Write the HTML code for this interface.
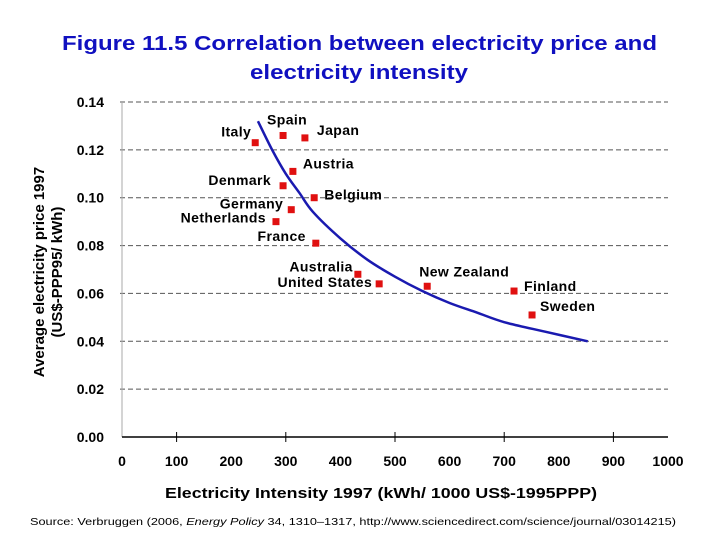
<!DOCTYPE html>
<html><head><meta charset="utf-8"><style>
body{margin:0;background:#fff;width:720px;height:540px;overflow:hidden;font-family:"Liberation Sans",Arial,sans-serif}
svg text{font-family:"Liberation Sans",Arial,sans-serif;font-weight:bold}
</style></head><body>
<svg id="chart" width="720" height="540" xmlns="http://www.w3.org/2000/svg">
<text x="62" y="50" font-size="20" fill="#1010c0" textLength="595" lengthAdjust="spacingAndGlyphs">Figure 11.5 Correlation between electricity price and</text>
<text x="250" y="79" font-size="20" fill="#1010c0" textLength="218" lengthAdjust="spacingAndGlyphs">electricity intensity</text>
<g id="grid"></g><g id="axes"></g><g id="marks"></g>
<text x="165" y="498" font-size="15" textLength="432" lengthAdjust="spacingAndGlyphs">Electricity Intensity 1997 (kWh/ 1000 US$-1995PPP)</text>
<text transform="translate(44,272) rotate(-90)" text-anchor="middle" font-size="15">Average electricity price 1997</text>
<text transform="translate(62,272) rotate(-90)" text-anchor="middle" font-size="15">(US$-PPP95/ kWh)</text>
<text x="30" y="525" font-size="10.5" style="font-weight:normal" textLength="646" lengthAdjust="spacingAndGlyphs">Source: Verbruggen (2006, <tspan font-style="italic">Energy Policy</tspan> 34, 1310–1317, http://www.sciencedirect.com/science/journal/03014215)</text>
</svg>
<script>
const countries=["Italy","Spain","Japan","Austria","Denmark","Belgium","Germany","Netherlands","France","Australia","United States","New Zealand","Finland","Sweden"];
const intensity=[244,295,335,313,295,352,310,282,355,432,471,559,718,751];
const price=[0.123,0.126,0.125,0.111,0.105,0.100,0.095,0.090,0.081,0.068,0.064,0.063,0.061,0.051];
const fitX=[249,275,300,325,350,400,450,500,550,600,650,700,775,853];
const fitY=[0.132,0.120,0.110,0.102,0.094,0.083,0.074,0.067,0.061,0.056,0.052,0.048,0.044,0.040];
const xTicks=[0,100,200,300,400,500,600,700,800,900,1000];
const yTicks=[0,0.02,0.04,0.06,0.08,0.10,0.12,0.14];
const labelOff=[[-4,-6,"end"],[4,-11,"middle"],[12,-3,"start"],[10,-3,"start"],[-12,-1,"end"],[10,2,"start"],[-8,-1,"end"],[-10,1,"end"],[-10,-2,"end"],[-5,-3,"end"],[-7,3,"end"],[-8,-10,"start"],[10,0,"start"],[8,-4,"start"]];
const X=v=>122+v*0.546, Y=v=>437-v*(335/0.14);
const NS="http://www.w3.org/2000/svg";
function mk(t,a,p){const e=document.createElementNS(NS,t);for(const k in a)e.setAttribute(k,a[k]);p.appendChild(e);return e;}
const grid=document.getElementById('grid'),axes=document.getElementById('axes'),marks=document.getElementById('marks');
yTicks.forEach(v=>{
 if(v>0){const l=mk('line',{x1:120,x2:668,y1:Y(v),y2:Y(v),stroke:'#555','stroke-dasharray':'5,3','stroke-width':1},grid);
 
 }
 const t=mk('text',{x:104,y:Y(v)+5,'text-anchor':'end','font-size':14},axes);t.textContent=v.toFixed(2);
 
 
});
const ya=mk('line',{x1:122,x2:122,y1:Y(0.14),y2:437,stroke:'#aaa'},axes);


const xa=mk('line',{x1:122,x2:668,y1:437,y2:437,stroke:'#000','stroke-width':1.5},axes);


xTicks.forEach((v,i)=>{
 if(i%2==1){const tk=mk('line',{x1:X(v),x2:X(v),y1:432,y2:442,stroke:'#000'},axes);
 
 }
 const t=mk('text',{x:X(v),y:466,'text-anchor':'middle','font-size':14},axes);t.textContent=v;
 
 
});
const P=fitX.map((x,i)=>[X(x),Y(fitY[i])]);
let d='M'+P[0][0]+','+P[0][1];
for(let i=0;i<P.length-1;i++){const p0=P[i-1]||P[i],p1=P[i],p2=P[i+1],p3=P[i+2]||p2;
 d+=' C'+(p1[0]+(p2[0]-p0[0])/6)+','+(p1[1]+(p2[1]-p0[1])/6)+' '+(p2[0]-(p3[0]-p1[0])/6)+','+(p2[1]-(p3[1]-p1[1])/6)+' '+p2[0]+','+p2[1];}
const c=mk('path',{d:d,fill:'none',stroke:'#1a1ab0','stroke-width':2.5},marks);


countries.forEach((n,i)=>{
 const x=X(intensity[i]),y=Y(price[i]);
 const r=mk('rect',{x:x-3.5,y:y-3.5,width:7,height:7,fill:'#e01010'},marks);
 
 
 const o=labelOff[i];
 const t=mk('text',{x:x+o[0],y:y+o[1],'text-anchor':o[2],'font-size':14,'letter-spacing':'0.4'},marks);t.textContent=n;
 
 
});
</script>
</body></html>
